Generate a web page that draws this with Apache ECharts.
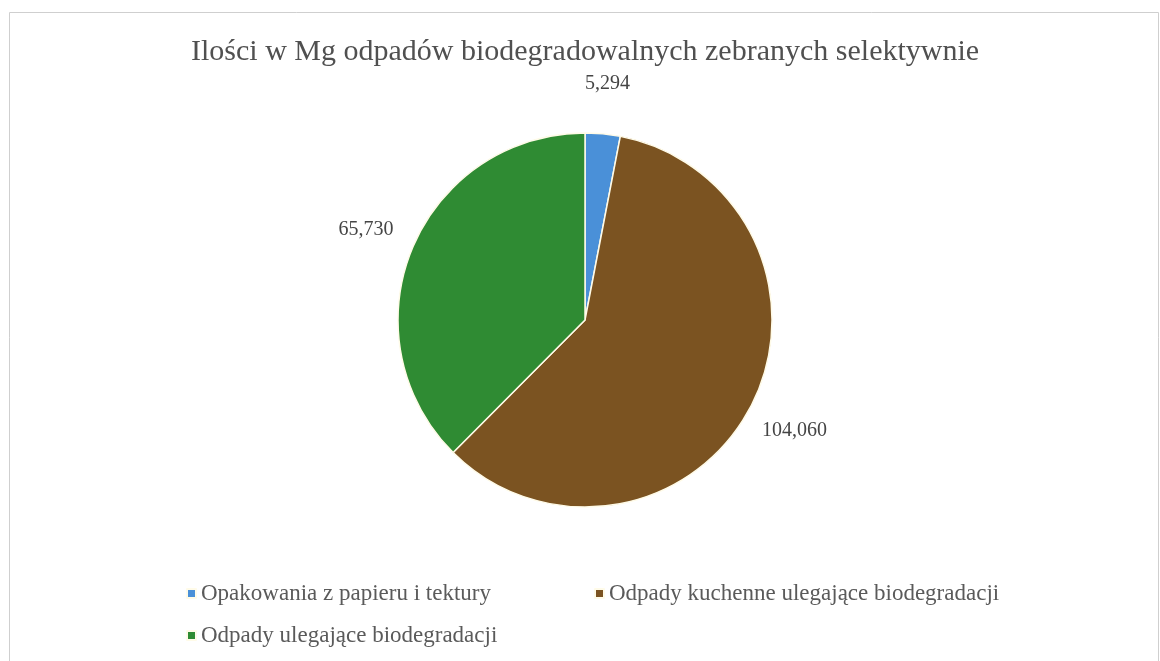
<!DOCTYPE html>
<html>
<head>
<meta charset="utf-8">
<script src="https://cdn.jsdelivr.net/npm/echarts@6/dist/echarts.min.js"></script>
<style>html,body{margin:0;padding:0;background:#fff}#c{width:1160px;height:661px}</style>
</head>
<body>
<div id="c"></div>
<script>
const titleText = 'Ilości w Mg odpadów biodegradowalnych zebranych selektywnie';
const categories = ['Opakowania z papieru i tektury', 'Odpady kuchenne ulegające biodegradacji', 'Odpady ulegające biodegradacji'];
const values = [5294, 104060, 65730];
const colors = ['#4a90d8', '#7b5321', '#2f8b33'];

const FONT = "'Liberation Serif', 'DejaVu Serif', serif";
const chart = echarts.init(document.getElementById('c'));
const fmt = v => v.toLocaleString('en-US');

const legendPos = [
  {left: 186, top: 582},
  {left: 594, top: 582},
  {left: 186, top: 624}
];

chart.setOption({
  backgroundColor: '#fff',
  animation: false,
  title: {
    text: titleText,
    left: 191,
    top: 32,
    padding: [5, 0, 5, 0],
    textStyle: {fontFamily: FONT, fontSize: 30, fontWeight: 'normal', color: '#505050'}
  },
  legend: categories.map((c, i) => ({
    data: [c],
    left: legendPos[i].left,
    top: legendPos[i].top,
    padding: 0,
    icon: 'rect',
    itemWidth: 9,
    itemHeight: 9,
    itemGap: 4,
    selectedMode: false,
    textStyle: {fontFamily: FONT, fontSize: 23, color: '#5a5a5a'}
  })),
  graphic: [{
    type: 'rect',
    shape: {x: 9.5, y: 12.5, width: 1149, height: 700},
    style: {fill: 'none', stroke: '#cfcfcf', lineWidth: 1},
    silent: true
  }],
  series: [{
    type: 'pie',
    center: [585, 320],
    radius: 187,
    startAngle: 90,
    clockwise: true,
    data: categories.map((c, i) => ({name: c, value: values[i], itemStyle: {color: colors[i]}})),
    itemStyle: {borderColor: '#fffbe8', borderWidth: 1.5},
    label: {
      show: true,
      position: 'outside',
      formatter: p => fmt(p.value),
      fontFamily: FONT,
      fontSize: 20,
      color: '#454545',
      distanceToLabelLine: 0
    },
    labelLine: {show: false, length: 50, length2: 0},
    labelLayout: {align: 'center', verticalAlign: 'middle', hideOverlap: false},
    emphasis: {disabled: true}
  }]
});
</script>
</body>
</html>
